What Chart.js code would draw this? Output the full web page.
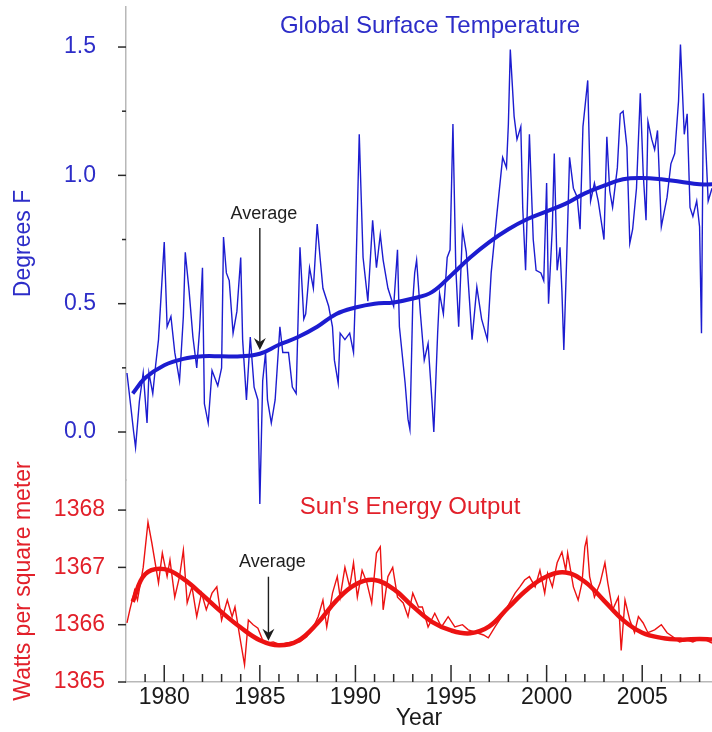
<!doctype html>
<html>
<head>
<title>Global Surface Temperature and Sun's Energy Output</title>
<script src="https://cdn.jsdelivr.net/npm/chart.js@4.4.1/dist/chart.umd.min.js"></script>
<style>
html, body { margin: 0; padding: 0; background: #fff; overflow: hidden; }
#wrap { width: 712px; height: 732px; position: relative; }
</style>
</head>
<body>
<div id="wrap"><canvas id="canvas"></canvas></div>
<script>
// monthly-ish global surface temperature anomaly (deg F)
var tempYears = [1978.05,1978.25,1978.4,1978.5,1978.7,1978.9,1979.1,1979.2,1979.4,1979.55,1979.7,1980.0,1980.15,1980.35,1980.55,1980.8,
	1981.0,1981.1,1981.3,1981.5,1981.7,1981.85,1982.0,1982.1,1982.3,1982.5,1982.8,1983.0,1983.1,1983.25,1983.4,1983.6,1983.8,
	1984.0,1984.1,1984.3,1984.5,1984.7,1984.9,1985.0,1985.15,1985.3,1985.4,1985.6,1985.8,1986.05,1986.2,1986.5,1986.7,1986.9,
	1987.1,1987.3,1987.4,1987.6,1987.8,1988.0,1988.15,1988.3,1988.6,1988.8,1988.9,1989.1,1989.2,1989.45,1989.7,1989.9,
	1990.0,1990.2,1990.4,1990.65,1990.9,1991.1,1991.3,1991.45,1991.7,1992.0,1992.2,1992.3,1992.6,1992.75,1992.85,
	1993.0,1993.1,1993.2,1993.4,1993.6,1993.8,1994.0,1994.1,1994.3,1994.4,1994.6,1994.8,1994.95,1995.1,1995.25,1995.4,1995.6,1995.8,
	1996.1,1996.35,1996.6,1996.9,1997.1,1997.4,1997.7,1997.9,1998.0,1998.1,1998.3,1998.45,1998.65,1998.75,1998.9,
	1999.1,1999.3,1999.45,1999.7,1999.85,2000.0,2000.1,2000.3,2000.4,2000.55,2000.7,2000.8,2000.9,
	2001.05,2001.2,2001.4,2001.6,2001.75,2001.9,2002.15,2002.3,2002.5,2002.7,2002.9,2003.0,2003.15,2003.3,2003.45,2003.7,2003.85,
	2004.0,2004.2,2004.35,2004.5,2004.7,2004.9,2005.05,2005.2,2005.3,2005.5,2005.65,2005.8,2006.0,2006.3,2006.5,2006.7,2006.9,
	2007.0,2007.2,2007.35,2007.5,2007.65,2007.85,2008.0,2008.1,2008.2,2008.45,2008.65];
var tempValues = [0.23,0.10,0.00,-0.06,0.12,0.23,0.035,0.23,0.15,0.26,0.36,0.74,0.41,0.45,0.31,0.20,
	0.45,0.70,0.55,0.37,0.25,0.40,0.64,0.11,0.035,0.24,0.18,0.25,0.76,0.62,0.59,0.385,0.47,
	0.68,0.36,0.125,0.37,0.175,0.125,-0.28,0.20,0.31,0.125,0.035,0.125,0.41,0.31,0.31,0.175,0.15,
	0.72,0.44,0.46,0.64,0.56,0.81,0.68,0.56,0.49,0.41,0.28,0.19,0.385,0.36,0.385,0.31,
	0.54,1.16,0.68,0.51,0.825,0.64,0.77,0.67,0.56,0.49,0.71,0.41,0.19,0.05,0.01,
	0.51,0.62,0.67,0.46,0.28,0.345,0.125,0.00,0.385,0.54,0.46,0.68,0.71,1.20,0.64,0.41,0.79,0.70,
	0.36,0.565,0.44,0.36,0.62,0.85,1.07,1.03,1.20,1.49,1.23,1.14,1.19,0.875,0.63,
	1.16,0.75,0.63,0.62,0.59,0.97,0.50,0.80,1.085,0.63,0.72,0.55,0.32,
	0.68,1.07,0.95,0.915,0.79,1.19,1.37,0.90,0.97,0.90,0.80,0.75,1.15,0.94,0.875,1.03,1.24,
	1.25,1.11,0.735,0.79,0.95,1.32,1.01,0.825,1.21,1.14,1.10,1.175,0.80,0.915,1.045,1.085,1.29,
	1.51,1.16,1.24,0.875,0.84,0.90,0.80,0.385,1.32,0.90,0.95];

// smoothed temperature average
var tempAvgYears = [1978.35,1979,1980,1981,1982,1983,1984,1985,1986,1987,1988,1989,1990,1991,1992,1993,
	1994,1995,1996,1997,1998,1999,2000,2001,2002,2003,2004,2005,2006,2007,2008,2008.65];
var tempAvgValues = [0.15,0.21,0.26,0.285,0.295,0.295,0.295,0.305,0.34,0.37,0.41,0.46,0.485,0.50,0.505,0.52,
	0.545,0.61,0.68,0.74,0.79,0.83,0.86,0.89,0.93,0.96,0.985,0.99,0.985,0.975,0.965,0.965];

// total solar irradiance (W/m2)
var sunYears = [1978.05,1978.2,1978.45,1978.6,1978.9,1979.15,1979.35,1979.5,1979.7,1979.9,1980.15,1980.3,1980.55,1980.8,
	1981.0,1981.2,1981.45,1981.7,1981.95,1982.2,1982.5,1982.75,1983.0,1983.3,1983.55,1983.7,1983.95,1984.2,1984.4,1984.65,1984.9,
	1985.15,1985.4,1985.7,1986.05,1986.4,1986.75,1987.1,1987.45,1987.8,1988.05,1988.3,1988.5,1988.8,1989.05,1989.2,1989.45,1989.7,1989.9,
	1990.1,1990.35,1990.6,1990.85,1991.1,1991.3,1991.45,1991.7,1991.95,1992.2,1992.5,1992.75,1993.0,1993.3,1993.5,1993.8,
	1994.15,1994.5,1994.85,1995.2,1995.6,1995.9,1996.35,1996.7,1996.95,1997.3,1997.65,1997.95,1998.35,1998.6,1998.85,
	1999.1,1999.4,1999.65,1999.9,2000.05,2000.3,2000.55,2000.8,2001.0,2001.1,2001.4,2001.65,2001.85,2002.0,2002.1,2002.25,2002.5,2002.8,
	2003.05,2003.2,2003.45,2003.75,2003.9,2004.1,2004.35,2004.6,2004.8,2005.05,2005.3,2005.65,2006.0,2006.3,2006.6,2006.95,
	2007.35,2007.65,2008.1,2008.65];
var sunValues = [1366.03,1366.26,1366.6,1366.43,1367.0,1367.79,1367.43,1367.13,1366.73,1367.25,1366.84,1367.13,1366.48,1366.84,
	1367.3,1366.38,1366.66,1366.14,1366.55,1366.26,1366.55,1366.66,1366.08,1366.43,1366.14,1366.31,1365.79,1365.3,1366.08,1366.0,1365.94,
	1365.73,1365.68,1365.7,1365.65,1365.68,1365.7,1365.7,1365.79,1365.96,1366.14,1366.43,1365.96,1366.55,1366.84,1366.48,1367.0,1366.66,1367.08,
	1366.48,1366.95,1366.73,1366.38,1367.25,1367.36,1366.26,1366.84,1367.0,1366.48,1366.38,1366.14,1366.55,1366.31,1366.31,1365.96,
	1366.2,1365.96,1366.14,1365.96,1366.0,1365.91,1365.86,1365.82,1365.77,1365.96,1366.14,1366.31,1366.55,1366.66,1366.78,
	1366.84,1366.66,1366.95,1366.55,1366.9,1366.66,1367.08,1367.27,1366.95,1367.25,1366.66,1366.43,1366.73,1367.36,1367.5,1366.84,1366.48,1366.73,
	1367.08,1366.73,1366.26,1366.48,1365.55,1366.43,1366.08,1365.86,1366.14,1366.03,1365.86,1365.91,1366.0,1365.86,1365.79,1365.7,
	1365.73,1365.7,1365.77,1365.68];

// smoothed solar average
var sunAvgYears = [1978.35,1979,1980,1981,1982,1983,1984,1985,1986,1987,1988,1989,1990,1991,1992,1993,
	1994,1995,1996,1997,1998,1999,2000,2001,2002,2003,2004,2005,2006,2007,2008,2008.65];
var sunAvgValues = [1366.4,1366.88,1366.97,1366.8,1366.52,1366.22,1365.95,1365.73,1365.64,1365.72,1366.02,1366.42,1366.7,1366.78,1366.62,1366.32,
	1366.05,1365.9,1365.85,1365.97,1366.3,1366.62,1366.84,1366.91,1366.75,1366.42,1366.08,1365.86,1365.77,1365.74,1365.75,1365.74];

// axis ticks
var yearLabels = [1980, 1985, 1990, 1995, 2000, 2005];
var tempTicks = [0, 0.5, 1.0, 1.5];
var tempMinorTicks = [0.25, 0.75, 1.25];
var sunTicks = [1365, 1366, 1367, 1368];

// where the "Average" arrows point
var tempAvgMark = { year: 1985.0, value: 0.32 };
var sunAvgMark = { year: 1985.45, value: 1365.72 };

var FONT = "'Liberation Sans', Arial, sans-serif";
var BLUE = 'rgb(28,28,208)';
var RED = 'rgb(236,18,18)';
var BLUE_TXT = 'rgb(45,45,200)';
var RED_TXT = 'rgb(226,32,42)';
var AXIS_GREY = '#b8b8b8';

function toPoints(xs, ys) {
	return xs.map(function(x, i) { return { x: x, y: ys[i] }; });
}

function setTicks(values) {
	return function(scale) {
		scale.ticks = values.map(function(v) { return { value: v }; });
	};
}

// fixed axis size, no extra padding asked for by the edge labels
function fixSize(w, h) {
	return function(s) {
		if (w) s.width = w;
		if (h) s.height = h;
		s.paddingTop = 0; s.paddingBottom = 0;
		s.paddingLeft = 0; s.paddingRight = 0;
	};
}

function drawArrow(ctx, x, yTip, len) {
	ctx.beginPath();
	ctx.moveTo(x, yTip - len);
	ctx.lineTo(x, yTip - 4);
	ctx.stroke();
	ctx.beginPath();
	ctx.moveTo(x, yTip);
	ctx.lineTo(x - 6, yTip - 12);
	ctx.lineTo(x, yTip - 8);
	ctx.lineTo(x + 6, yTip - 12);
	ctx.closePath();
	ctx.fill();
}

var decorations = {
	id: 'decorations',
	afterDraw: function(chart) {
		var ctx = chart.ctx;
		var xs = chart.scales.x, yT = chart.scales.yTemp, yS = chart.scales.ySun;
		ctx.save();
		ctx.strokeStyle = '#2a2a2a';
		ctx.lineWidth = 1.5;
		// year ticks point up into the plot
		for (var yr = 1979; yr <= 2008; yr++) {
			var px = xs.getPixelForValue(yr);
			var len = yr % 5 === 0 ? 17 : 8;
			ctx.beginPath(); ctx.moveTo(px, xs.top); ctx.lineTo(px, xs.top - len); ctx.stroke();
		}
		// left ticks
		tempTicks.forEach(function(v) {
			var py = yT.getPixelForValue(v);
			ctx.beginPath(); ctx.moveTo(yT.right - 8, py); ctx.lineTo(yT.right, py); ctx.stroke();
		});
		tempMinorTicks.forEach(function(v) {
			var py = yT.getPixelForValue(v);
			ctx.beginPath(); ctx.moveTo(yT.right - 4, py); ctx.lineTo(yT.right, py); ctx.stroke();
		});
		sunTicks.forEach(function(v) {
			var py = yS.getPixelForValue(v);
			ctx.beginPath(); ctx.moveTo(yS.right - 8, py); ctx.lineTo(yS.right, py); ctx.stroke();
		});

		// panel titles
		ctx.textAlign = 'center';
		ctx.textBaseline = 'middle';
		ctx.font = '24px ' + FONT;
		ctx.fillStyle = BLUE_TXT;
		ctx.fillText('Global Surface Temperature', 430, 26);
		ctx.fillStyle = RED_TXT;
		ctx.fillText("Sun's Energy Output", 410, 507);

		// "Average" arrows
		ctx.fillStyle = '#1e1e1e';
		ctx.strokeStyle = '#1e1e1e';
		ctx.lineWidth = 1.4;
		ctx.font = '18px ' + FONT;
		var ax = xs.getPixelForValue(tempAvgMark.year), ay = yT.getPixelForValue(tempAvgMark.value);
		drawArrow(ctx, ax, ay, 122);
		ctx.fillText('Average', ax + 4, ay - 136);
		var bx = xs.getPixelForValue(sunAvgMark.year), by = yS.getPixelForValue(sunAvgMark.value);
		drawArrow(ctx, bx, by, 64);
		ctx.fillText('Average', bx + 4, by - 79);
		ctx.restore();
	}
};

var ctx = document.getElementById('canvas').getContext('2d');
new Chart(ctx, {
	type: 'line',
	data: {
		datasets: [{
			label: 'Temperature average',
			data: toPoints(tempAvgYears, tempAvgValues),
			yAxisID: 'yTemp',
			borderColor: BLUE,
			borderWidth: 4,
			pointRadius: 0,
			tension: 0.4,
			clip: false,
			order: 0
		}, {
			label: 'Temperature',
			data: toPoints(tempYears, tempValues),
			yAxisID: 'yTemp',
			borderColor: BLUE,
			borderWidth: 1.4,
			pointRadius: 0,
			tension: 0,
			clip: false,
			order: 1
		}, {
			label: 'Solar average',
			data: toPoints(sunAvgYears, sunAvgValues),
			yAxisID: 'ySun',
			borderColor: RED,
			borderWidth: 4.5,
			pointRadius: 0,
			tension: 0.4,
			clip: false,
			order: 0
		}, {
			label: 'Solar output',
			data: toPoints(sunYears, sunValues),
			yAxisID: 'ySun',
			borderColor: RED,
			borderWidth: 1.4,
			pointRadius: 0,
			tension: 0,
			clip: false,
			order: 1
		}]
	},
	options: {
		responsive: true,
		maintainAspectRatio: false,
		animation: false,
		layout: { padding: { top: 7, right: 0, bottom: 0, left: 0 } },
		plugins: { legend: { display: false }, tooltip: { enabled: false } },
		scales: {
			x: {
				type: 'linear',
				position: 'bottom',
				min: 1978,
				max: 2008.65,
				border: { color: AXIS_GREY, width: 1.5 },
				grid: { display: false, drawTicks: false },
				afterBuildTicks: setTicks(yearLabels),
				afterFit: fixSize(0, 50),
				ticks: {
					autoSkip: false,
					maxRotation: 0,
					padding: 2,
					color: '#1a1a1a',
					font: { family: FONT, size: 23 },
					callback: function(v) { return String(v); }
				},
				title: {
					display: true,
					text: 'Year',
					color: '#1a1a1a',
					font: { family: FONT, size: 23 },
					padding: { top: 0, bottom: 0 }
				}
			},
			yTemp: {
				type: 'linear',
				position: 'left',
				stack: 'panels',
				stackWeight: 473,
				weight: 1,
				min: -0.187,
				max: 1.656,
				border: { color: AXIS_GREY, width: 1.5 },
				grid: { display: false, drawTicks: false },
				afterBuildTicks: setTicks(tempTicks),
				afterFit: fixSize(126, 0),
				ticks: {
					padding: 30,
					color: BLUE_TXT,
					font: { family: FONT, size: 23 },
					callback: function(v) { return v.toFixed(1); }
				},
				title: {
					display: true,
					text: 'Degrees F',
					color: BLUE_TXT,
					font: { family: FONT, size: 23 },
					padding: { top: 10, bottom: 0 }
				}
			},
			ySun: {
				type: 'linear',
				position: 'left',
				stack: 'panels',
				stackWeight: 202,
				weight: 0,
				min: 1365,
				max: 1368.525,
				border: { color: AXIS_GREY, width: 1.5 },
				grid: { display: false, drawTicks: false },
				afterBuildTicks: setTicks(sunTicks),
				afterFit: fixSize(126, 0),
				ticks: {
					padding: 21,
					color: RED_TXT,
					font: { family: FONT, size: 23 },
					callback: function(v) { return String(v); }
				},
				title: {
					display: true,
					text: 'Watts per square meter',
					color: RED_TXT,
					font: { family: FONT, size: 23 },
					padding: { top: 10, bottom: 0 }
				}
			}
		}
	},
	plugins: [decorations]
});
</script>
</body>
</html>
